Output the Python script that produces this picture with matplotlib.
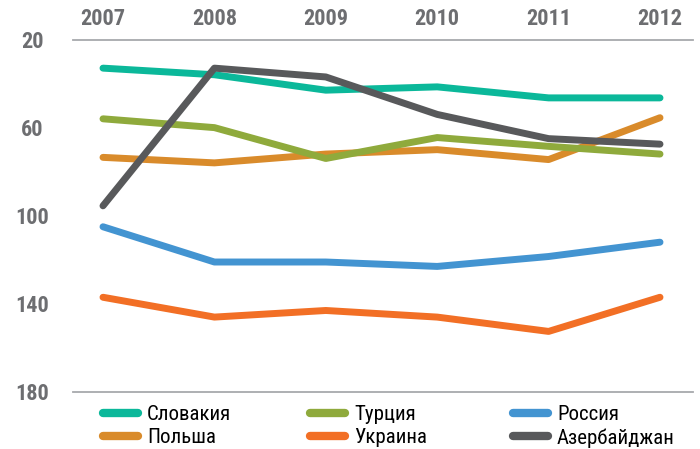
import matplotlib.pyplot as plt
import matplotlib
from matplotlib import font_manager

years = [2007, 2008, 2009, 2010, 2011, 2012]

slovakia = [33, 36, 43, 41.5, 46.5, 46.5]
turkey = [56, 60, 74, 64.5, 68.5, 72]
russia = [105, 121, 121, 123, 118.5, 112]
poland = [73.5, 76, 72, 70, 74.5, 55.5]
ukraine = [137, 146, 143, 146, 152.5, 137]
azerbaijan = [95.5, 33, 37, 54, 65, 67.5]

series = [
    ("Словакия", slovakia, "#0bb89a"),
    ("Польша", poland, "#d98b2b"),
    ("Турция", turkey, "#8faa3c"),
    ("Украина", ukraine, "#f26f25"),
    ("Россия", russia, "#4394d1"),
    ("Азербайджан", azerbaijan, "#58595b"),
]
# draw order so that the dark line sits on top like in the original
draw_order = ["Россия", "Украина", "Польша", "Турция", "Словакия", "Азербайджан"]

# pick a condensed font with cyrillic if we have one
installed = set(f.name for f in font_manager.fontManager.ttflist)
fam = [f for f in ['Roboto Condensed', 'PT Sans Narrow', 'Archivo Narrow'] if f in installed]
matplotlib.rcParams['font.family'] = fam[:1] + ['DejaVu Sans']

fig = plt.figure(figsize=(7.0, 4.49), dpi=100)
ax = fig.add_axes([73 / 700, 1 - 392 / 449, 620 / 700, (392 - 39.5) / 449])

lines = {}
for name, vals, color in series:
    ln, = ax.plot(years, vals, color=color, lw=5, solid_capstyle='round',
                  solid_joinstyle='round', label=name,
                  zorder=3 + draw_order.index(name))
    lines[name] = ln

ax.set_ylim(180, 20)
ax.set_xlim(2007 - 30 / 111.4, 2012 + 33 / 111.4)
ax.set_yticks([20, 60, 100, 140, 180])
ax.set_xticks(years)
ax.xaxis.tick_top()
ax.tick_params(axis='both', length=0, labelsize=16, labelcolor='#6d6e71')
ax.tick_params(axis='y', pad=29.5)
ax.tick_params(axis='x', pad=7)
for lab in ax.get_xticklabels() + ax.get_yticklabels():
    lab.set_fontweight('bold')
for lab in ax.get_yticklabels():
    lab.set_horizontalalignment('center')

for side in ['left', 'right']:
    ax.spines[side].set_visible(False)
for side in ['top', 'bottom']:
    ax.spines[side].set_color('#a7a9ac')
    ax.spines[side].set_linewidth(1.3)

# legend: one small legend per column so the columns line up like the original
col_x = [103, 310, 513]
for i, x0 in enumerate(col_x):
    pair = series[2 * i:2 * i + 2]
    leg = fig.legend(handles=[lines[s[0]] for s in pair], labels=[s[0] for s in pair],
                     loc='upper left', bbox_to_anchor=(x0 / 700, 1 - 405 / 449),
                     frameon=False, fontsize=15, borderpad=0, borderaxespad=0,
                     handlelength=1.68, handletextpad=0.43, labelspacing=0.2)
    for h in leg.get_lines():
        h.set_linewidth(6)
        h.set_solid_capstyle('round')

fig.savefig('out.png', dpi=100)
